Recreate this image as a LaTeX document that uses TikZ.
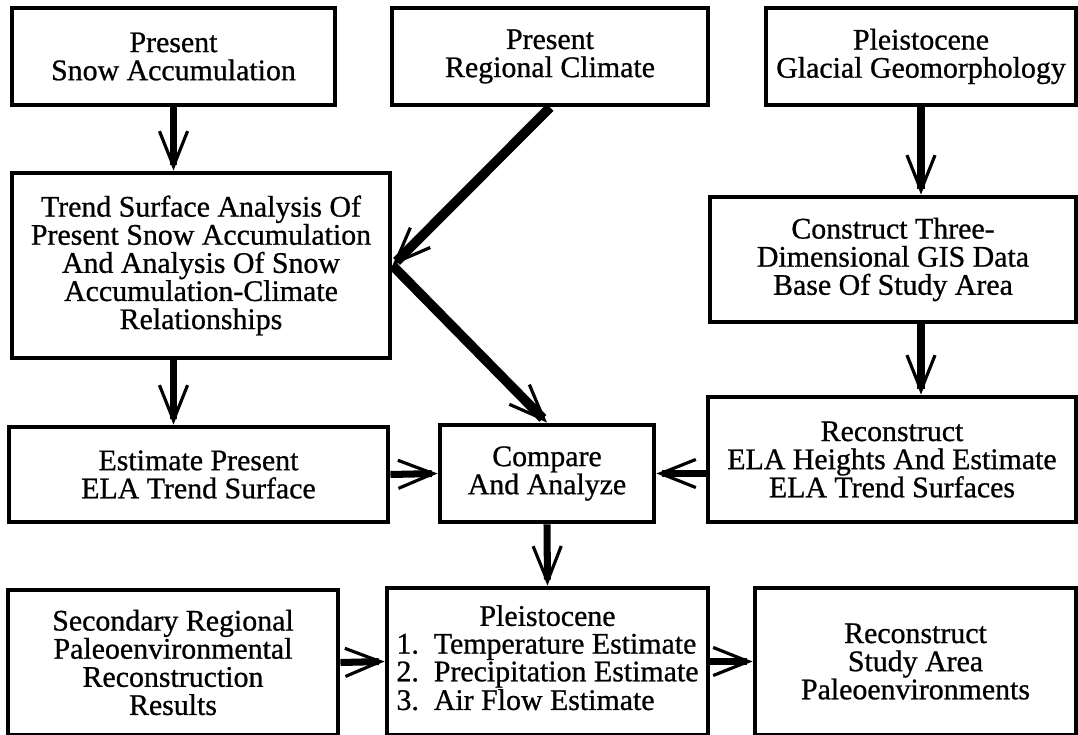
\documentclass[tikz,border=0pt]{standalone}
\usepackage{fontspec}
\setmainfont{Liberation Serif}
\newfontfamily\boxfont{Liberation Serif}[FakeBold=0.8]
\usetikzlibrary{arrows.meta,positioning}

\begin{document}
\begin{tikzpicture}[
	box/.style={rectangle, draw, line width=2.8pt, align=center, inner sep=2pt, font=\boxfont\fontsize{17}{16}\selectfont},
	fleche/.style={draw, line width=4pt, -{Straight Barb[length=20pt,width=16pt,line width=1.8pt]}},
	grosse/.style={fleche, line width=5.5pt}
	]
	\useasboundingbox (0,0) rectangle (21.56,-14.7);

	% Les boites
	\node[box, minimum width=6.46cm, minimum height=1.94cm] (snow) at (3.47,-1.13) {Present\\Snow Accumulation};
	\node[box, minimum width=6.32cm, minimum height=1.94cm] (climate) at (11.0,-1.13) {Present\\Regional Climate};
	\node[box, minimum width=6.2cm, minimum height=1.94cm] (geomorph) at (18.42,-1.13) {Pleistocene\\Glacial Geomorphology};
	\node[box, minimum width=7.56cm, minimum height=3.7cm] (trend) at (4.02,-5.31) {Trend Surface Analysis Of\\Present Snow Accumulation\\And Analysis Of Snow\\Accumulation-Climate\\Relationships};
	\node[box, minimum width=7.32cm, minimum height=2.5cm] (gis) at (17.86,-5.19) {Construct Three-\\Dimensional GIS Data\\Base Of Study Area};
	\node[box, minimum width=7.58cm, minimum height=1.9cm] (estimate) at (3.97,-9.49) {Estimate Present\\ELA Trend Surface};
	\node[box, minimum width=4.28cm, minimum height=1.94cm] (compare) at (10.94,-9.47) {Compare\\And Analyze};
	\node[box, minimum width=7.36cm, minimum height=2.5cm] (ela) at (17.84,-9.19) {Reconstruct\\ELA Heights And Estimate\\ELA Trend Surfaces};
	\node[box, minimum width=6.6cm, minimum height=2.9cm] (secondary) at (3.46,-13.25) {Secondary Regional\\Paleoenvironmental\\Reconstruction\\Results};
	\node[box, minimum width=6.42cm, minimum height=2.94cm] (pleist) at (10.95,-13.23) {\renewcommand{\arraystretch}{0.94}\begin{tabular}{@{}l@{}}\multicolumn{1}{@{}c@{}}{Pleistocene}\\1.\ \ Temperature Estimate\\2.\ \ Precipitation Estimate\\3.\ \ Air Flow Estimate\end{tabular}};
	\node[box, minimum width=6.42cm, minimum height=2.94cm] (study) at (18.31,-13.23) {Reconstruct\\Study Area\\Paleoenvironments};

	% Les fleches
	\draw[fleche] (snow.south) -- (snow.south |- trend.north);
	\draw[fleche] (geomorph.south) -- (geomorph.south |- gis.north);
	\draw[fleche] (geomorph.south |- gis.south) -- (geomorph.south |- ela.north);
	\draw[fleche] (snow.south |- trend.south) -- (snow.south |- estimate.north);
	\draw[grosse] (climate.south) -- (trend.east);
	\draw[grosse] (trend.east) -- (compare.north);
	\draw[fleche] (estimate.east) -- (compare.west);
	\draw[fleche] (ela.west |- compare.east) -- (compare.east);
	\draw[fleche] (compare.south) -- (pleist.north);
	\draw[fleche] (secondary.east) -- (pleist.west);
	\draw[fleche] (pleist.east) -- (study.west);
\end{tikzpicture}
\end{document}
